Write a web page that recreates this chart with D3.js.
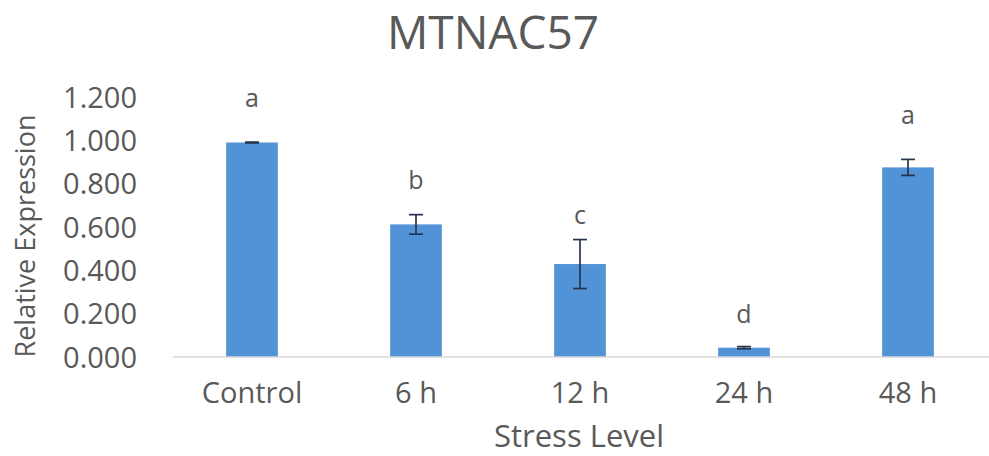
<!DOCTYPE html>
<html>
<head>
<meta charset="utf-8">
<script src="https://cdn.jsdelivr.net/npm/d3@7"></script>
<style>
  html, body { margin: 0; padding: 0; background: #ffffff; }
  svg { display: block; }
  text { font-family: "Open Sans", "Noto Sans", sans-serif; fill: #595959; }
</style>
</head>
<body>
<svg id="chart" width="989" height="456"></svg>
<script>
// ---- data ----
const categories = ["Control", "6 h", "12 h", "24 h", "48 h"];
const values = [0.990, 0.612, 0.429, 0.043, 0.875];
const errors = [0.002, 0.045, 0.113, 0.005, 0.037];
const letters = ["a", "b", "c", "d", "a"];
const letterLevels = [1.152, 0.775, 0.614, 0.155, 1.075];
const yTicks = [0, 0.2, 0.4, 0.6, 0.8, 1.0, 1.2];
const title = "MTNAC57";
const xTitle = "Stress Level";
const yTitle = "Relative Expression";

const W = 989, H = 456;
const svg = d3.select("#chart");

const x = d3.scaleBand()
  .domain(categories)
  .range([170, 990])
  .paddingInner(0.685)
  .paddingOuter(0.3425);

const y = d3.scaleLinear().domain([0, 1.2]).range([357, 97]);

// title
svg.append("text")
  .attr("x", 493).attr("y", 49)
  .attr("text-anchor", "middle")
  .style("font-size", "46px")
  .text(title);

// y axis (labels only)
const yAxis = d3.axisLeft(y).tickValues(yTicks).tickFormat(d3.format(".3f")).tickSize(0).tickPadding(0);
const gy = svg.append("g").attr("transform", "translate(137,0)").call(yAxis);
gy.select(".domain").remove();
gy.selectAll("text")
  .attr("x", 0)
  .attr("dy", "0.35em")
  .style("font-family", "'Open Sans', sans-serif")
  .style("font-size", "29px")
  .style("fill", "#595959");

// bars
svg.append("g").selectAll("rect")
  .data(categories)
  .join("rect")
  .attr("x", d => x(d))
  .attr("width", x.bandwidth())
  .attr("y", (d, i) => y(values[i]))
  .attr("height", (d, i) => y(0) - y(values[i]))
  .attr("fill", "#5292d6");

// x axis
const xAxis = d3.axisBottom(x).tickSize(0).tickPadding(0);
const gx = svg.append("g").attr("transform", `translate(0,${y(0)})`).call(xAxis);
gx.select(".domain").remove();
gx.selectAll("text")
  .attr("y", 46)
  .attr("dy", 0)
  .style("font-family", "'Open Sans', sans-serif")
  .style("font-size", "29px")
  .style("fill", "#595959");

svg.append("line")
  .attr("x1", 173).attr("x2", 989)
  .attr("y1", y(0)).attr("y2", y(0))
  .attr("stroke", "#d9d9d9").attr("stroke-width", 1.5);

// error bars
const eg = svg.append("g").attr("stroke", "#26364a").attr("stroke-width", 1.7);
categories.forEach((c, i) => {
  const cx = x(c) + x.bandwidth() / 2;
  const top = y(values[i] + errors[i]);
  const bot = y(values[i] - errors[i]);
  eg.append("line").attr("x1", cx).attr("x2", cx).attr("y1", top).attr("y2", bot);
  eg.append("line").attr("x1", cx - 7).attr("x2", cx + 7).attr("y1", top).attr("y2", top);
  eg.append("line").attr("x1", cx - 7).attr("x2", cx + 7).attr("y1", bot).attr("y2", bot);
});

// significance letters
svg.append("g").selectAll("text")
  .data(categories)
  .join("text")
  .attr("x", d => x(d) + x.bandwidth() / 2)
  .attr("y", (d, i) => y(letterLevels[i]))
  .attr("text-anchor", "middle")
  .style("font-size", "25px")
  .text((d, i) => letters[i]);

// axis titles
svg.append("text")
  .attr("x", 579).attr("y", 447)
  .attr("text-anchor", "middle")
  .style("font-size", "31px")
  .text(xTitle);

svg.append("text")
  .attr("transform", "translate(35,236) rotate(-90)")
  .attr("text-anchor", "middle")
  .style("font-size", "27px")
  .text(yTitle);
</script>
</body>
</html>
